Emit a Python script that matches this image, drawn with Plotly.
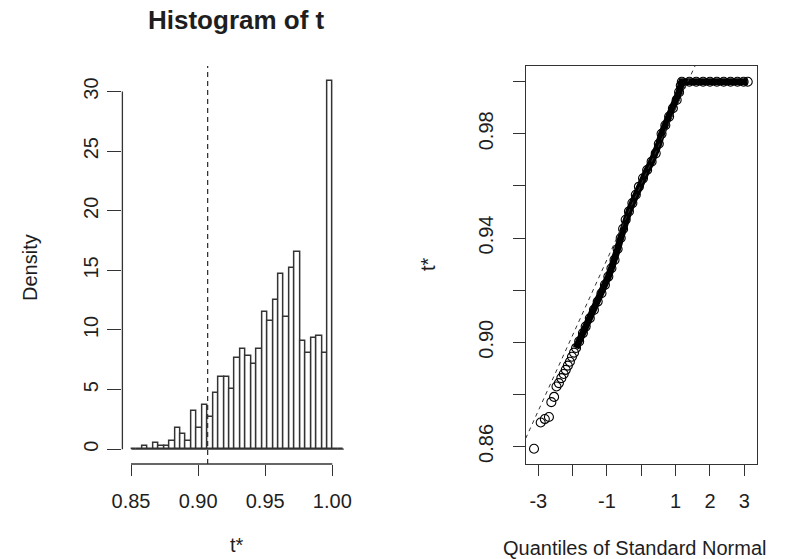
import plotly.graph_objects as go

W, H = 793, 559

# ---------------- data ----------------
# bootstrap histogram (density per bin), bins of equal width starting at bin_start
t0 = 0.9071
bin_start = 0.85029
bin_width = 0.004058
hist_density = [0, 0, 0.28, 0, 0.53, 0.28, 0.28, 0.73, 1.74, 1.26,
                0.73, 3.22, 1.74, 3.72, 2.70, 4.68, 6.08, 6.08, 5.02, 7.67,
                8.38, 7.82, 7.14, 8.38, 11.49, 10.78, 12.52, 14.70, 11.12, 15.24,
                16.50, 9.10, 8.04, 9.30, 9.52, 8.04, 30.90, 0, 0]

# normal QQ plot: theoretical quantiles vs sorted t*
qq_theoretical = [-3.125, -2.93, -2.81, -2.69, -2.62, -2.54, -2.47, -2.40, -2.33, -2.26,
                  -2.20, -2.14, -2.08, -2.02, -1.96, -1.90,
                  -1.81, -1.70, -1.62, -1.50, -1.38, -1.27, -1.16, -1.06, -0.96, -0.87,
                  -0.78, -0.69, -0.60, -0.53, -0.455, -0.36, -0.26, -0.16, -0.07, 0.05,
                  0.17, 0.30, 0.42, 0.51, 0.59, 0.70, 0.81, 0.92, 1.03, 1.10, 1.15,
                  1.18, 1.40, 1.60, 1.80, 2.00, 2.20, 2.40, 2.60, 2.80, 2.98, 3.10]
qq_sample = [0.8591, 0.8692, 0.8705, 0.8713, 0.8770, 0.8790, 0.8830, 0.8843, 0.8862, 0.8878,
             0.8894, 0.8910, 0.8925, 0.8944, 0.8960, 0.8978,
             0.9003, 0.9035, 0.9060, 0.9092, 0.9124, 0.9156, 0.9188, 0.9220, 0.9252, 0.9284,
             0.9316, 0.9358, 0.9400, 0.9435, 0.9470, 0.9502, 0.9534, 0.9566, 0.9597, 0.9629,
             0.9661, 0.9693, 0.9725, 0.9762, 0.9800, 0.9833, 0.9866, 0.9898, 0.9930, 0.9960, 0.9985,
             1.0, 1.0, 1.0, 1.0, 1.0, 1.0, 1.0, 1.0, 1.0, 1.0, 1.0]
qq_line_intercept = 0.9607
qq_line_slope = 0.0290

hist_xticks = [0.85, 0.90, 0.95, 1.00]
hist_xticktext = ["0.85", "0.90", "0.95", "1.00"]
hist_yticks = [0, 5, 10, 15, 20, 25, 30]
qq_xticks = [-3, -2, -1, 0, 1, 2, 3]
qq_xticktext = ["-3", "", "-1", "", "1", "2", "3"]
qq_yticks = [0.86, 0.88, 0.90, 0.92, 0.94, 0.96, 0.98, 1.00]
qq_yticktext = ["0.86", "", "0.90", "", "0.94", "", "0.98", ""]

# ---------------- layout helpers ----------------
def px_x(p):
    return p / W

def px_y(p):
    return 1 - p / H

INK = "#1e1e1e"
LINE = "#333333"
FONT = "Liberation Sans, Arial, sans-serif"

n_bins = len(hist_density)
edges = [bin_start + i * bin_width for i in range(n_bins + 1)]
centers = [bin_start + (i + 0.5) * bin_width for i in range(n_bins)]

fig = go.Figure()

# histogram bars
fig.add_trace(go.Bar(x=centers, y=hist_density, width=bin_width,
                     marker=dict(color="white", line=dict(color=LINE, width=1.5)),
                     xaxis="x", yaxis="y", showlegend=False, hoverinfo="x+y"))
# zero-height bins appear as a baseline across all breaks
fig.add_trace(go.Scatter(x=[edges[0], edges[-1]], y=[0, 0], mode="lines",
                         line=dict(color=LINE, width=1.3), xaxis="x", yaxis="y",
                         showlegend=False, hoverinfo="skip"))

# QQ plot: dense band + circles
dense_idx = [i for i, z in enumerate(qq_theoretical) if z >= -1.92]
fig.add_trace(go.Scatter(x=[qq_theoretical[i] for i in dense_idx],
                         y=[qq_sample[i] for i in dense_idx], mode="lines",
                         line=dict(color="black", width=7), xaxis="x2", yaxis="y2",
                         showlegend=False, hoverinfo="skip"))
fig.add_trace(go.Scatter(x=qq_theoretical, y=qq_sample, mode="markers",
                         marker=dict(symbol="circle-open", size=9, color="black",
                                     line=dict(width=1.1, color="black")),
                         xaxis="x2", yaxis="y2", showlegend=False, cliponaxis=False))

qq_xrange = [-3.367, 3.361]
qq_yrange = [0.85325, 1.00603]
fig.add_trace(go.Scatter(x=qq_xrange,
                         y=[qq_line_intercept + qq_line_slope * z for z in qq_xrange],
                         mode="lines", line=dict(color=LINE, width=1, dash="4px,4px"),
                         xaxis="x2", yaxis="y2", showlegend=False, hoverinfo="skip"))

tickfont = dict(family=FONT, size=20, color=INK)

fig.update_layout(
    width=W, height=H, margin=dict(l=0, r=0, t=0, b=0, autoexpand=False),
    paper_bgcolor="white", plot_bgcolor="white",
    font=dict(family=FONT, color=INK), bargap=0,
    xaxis=dict(domain=[px_x(122.4), px_x(352)], range=[0.84359, 1.01468],
               tickvals=hist_xticks, ticktext=hist_xticktext, ticks="outside",
               ticklen=11, tickwidth=1.3, tickcolor=LINE, showline=False,
               showgrid=False, zeroline=False, tickfont=tickfont, anchor="y",
               ticklabelstandoff=8, automargin=False),
    yaxis=dict(domain=[px_y(464), px_y(66)], range=[-1.24, 32.14],
               tickvals=hist_yticks, ticks="outside", ticklen=14, tickwidth=1.3,
               tickcolor=LINE, showline=False, showgrid=False, zeroline=False,
               tickangle=-90, tickfont=tickfont, anchor="x", ticklabelstandoff=1,
               automargin=False),
    xaxis2=dict(domain=[px_x(525.7), px_x(756.7)], range=qq_xrange,
                tickvals=qq_xticks, ticktext=qq_xticktext, ticks="outside",
                ticklen=11, tickwidth=1.3, tickcolor=LINE, showline=True, mirror=True,
                linecolor=LINE, linewidth=1.3, showgrid=False, zeroline=False,
                tickfont=tickfont, anchor="y2", ticklabelstandoff=8, automargin=False),
    yaxis2=dict(domain=[px_y(464), px_y(66)], range=qq_yrange,
                tickvals=qq_yticks, ticktext=qq_yticktext, ticks="outside",
                ticklen=12, tickwidth=1.3, tickcolor=LINE, showline=True, mirror=True,
                linecolor=LINE, linewidth=1.3, showgrid=False, zeroline=False,
                tickangle=-90, tickfont=tickfont, anchor="x2", ticklabelstandoff=12,
                automargin=False),
)

# R-style detached axis lines for the histogram
fig.add_shape(type="line", xref="x", yref="y domain", x0=hist_xticks[0], x1=hist_xticks[-1],
              y0=0, y1=0, line=dict(color=LINE, width=1.3))
fig.add_shape(type="line", xref="x domain", yref="y", x0=0, x1=0,
              y0=hist_yticks[0], y1=hist_yticks[-1], line=dict(color=LINE, width=1.3))
# observed statistic
fig.add_shape(type="line", xref="x", yref="y domain", x0=t0, x1=t0, y0=0, y1=1,
              line=dict(color=LINE, width=1.3, dash="5px,4px"))

ann = [
    dict(text="<b>Histogram of t</b>", x=px_x(236.5), y=px_y(20), size=26, angle=0),
    dict(text="Density", x=px_x(30), y=px_y(268), size=20, angle=-90),
    dict(text="t*", x=px_x(237), y=px_y(545), size=20, angle=0),
    dict(text="t*", x=px_x(428), y=px_y(264), size=20, angle=-90),
    dict(text="Quantiles of Standard Normal", x=px_x(634), y=px_y(548), size=20, angle=0),
]
for a in ann:
    fig.add_annotation(text=a["text"], x=a["x"], y=a["y"], xref="paper", yref="paper",
                       xanchor="center", yanchor="middle", showarrow=False,
                       textangle=a["angle"], font=dict(family=FONT, size=a["size"], color=INK))

fig.write_html("out.html")
